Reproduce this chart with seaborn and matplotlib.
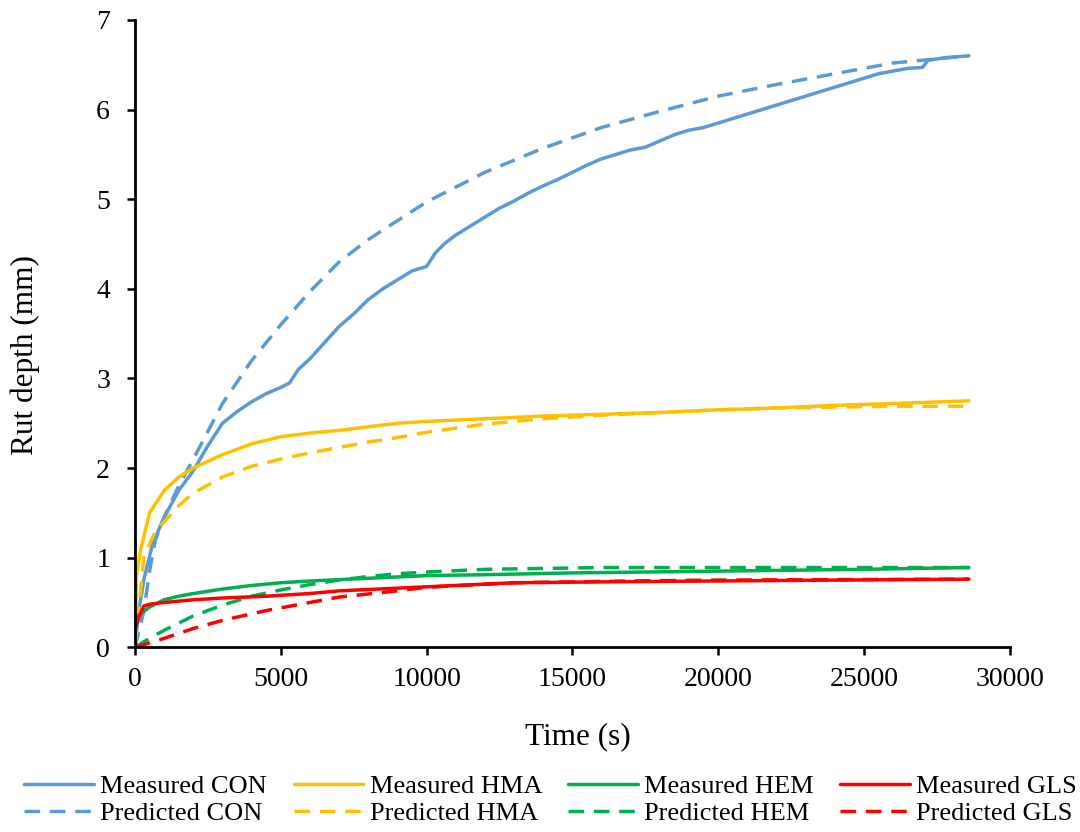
import numpy as np
import matplotlib
matplotlib.use("Agg")
import matplotlib.pyplot as plt
import seaborn as sns

# Measured / predicted rut depth (mm) vs time (s)
t_con = [0, 100, 300, 600, 1000, 1500, 2000, 2500, 3000, 3500, 4000, 4500, 5000, 5300, 5600, 6000,
         6500, 7000, 7500, 8000, 8500, 9000, 9500, 10000, 10300, 10600, 11000, 11500, 12000, 12500,
         13000, 13500, 14000, 14500, 15000, 15500, 16000, 16500, 17000, 17500, 18000, 18500, 19000,
         19500, 20000, 20500, 21000, 21500, 22000, 22500, 23000, 23500, 24000, 24500, 25000, 25500,
         26000, 26500, 27000, 27200, 27800, 28600]
meas_con = [0.0, 0.35, 0.75, 1.15, 1.45, 1.75, 1.97, 2.25, 2.5, 2.63, 2.74, 2.83, 2.9, 2.95, 3.1, 3.22,
            3.4, 3.58, 3.72, 3.88, 4.0, 4.1, 4.2, 4.25, 4.4, 4.5, 4.6, 4.7, 4.8, 4.9,
            4.98, 5.07, 5.15, 5.22, 5.3, 5.38, 5.45, 5.5, 5.55, 5.58, 5.65, 5.72, 5.77,
            5.8, 5.85, 5.9, 5.95, 6.0, 6.05, 6.1, 6.15, 6.2, 6.25, 6.3, 6.35, 6.4,
            6.43, 6.46, 6.47, 6.55, 6.58, 6.6]

t_pcon = [0, 300, 500, 700, 1000, 1500, 2000, 3000, 4000, 5000, 6000, 7000, 8000, 10000, 12000,
          14000, 16000, 18000, 20000, 22000, 24000, 26000, 28600]
pred_con = [0.0, 0.4, 0.85, 1.2, 1.45, 1.8, 2.1, 2.72, 3.2, 3.6, 3.97, 4.3, 4.55, 4.97, 5.3,
            5.57, 5.8, 5.98, 6.15, 6.28, 6.4, 6.52, 6.6]

t_hma = [0, 50, 200, 500, 1000, 1500, 2000, 3000, 4000, 5000, 6000, 7000, 8000, 9000, 10000,
         12000, 14000, 16000, 18000, 20000, 22000, 24000, 26000, 28600]
meas_hma = [0.0, 0.8, 1.1, 1.5, 1.75, 1.9, 2.0, 2.15, 2.27, 2.35, 2.39, 2.42, 2.46, 2.5, 2.52,
            2.55, 2.58, 2.6, 2.62, 2.65, 2.67, 2.7, 2.72, 2.75]

t_phma = [0, 300, 700, 1000, 1500, 2000, 3000, 4000, 5000, 6000, 7000, 8000, 9000, 10000, 12000,
          14000, 16000, 18000, 20000, 22000, 24000, 26000, 28600]
pred_hma = [0.0, 1.0, 1.3, 1.4, 1.58, 1.72, 1.9, 2.02, 2.1, 2.17, 2.23, 2.29, 2.34, 2.4, 2.49,
            2.55, 2.59, 2.62, 2.65, 2.67, 2.68, 2.69, 2.69]

t_hem = [0, 100, 500, 1000, 1500, 2000, 3000, 4000, 5000, 6000, 8000, 10000, 12000, 15000,
         20000, 25000, 28600]
meas_hem = [0.2, 0.35, 0.45, 0.53, 0.57, 0.6, 0.65, 0.69, 0.72, 0.74, 0.77, 0.8, 0.81, 0.83,
            0.85, 0.87, 0.89]

t_phem = [0, 500, 1000, 2000, 3000, 4000, 5000, 6000, 7000, 8000, 9000, 10000, 12000, 14000,
          16000, 20000, 28600]
pred_hem = [0.0, 0.1, 0.19, 0.35, 0.47, 0.57, 0.64, 0.7, 0.75, 0.79, 0.82, 0.84, 0.87, 0.88,
            0.89, 0.89, 0.89]

t_gls = [0, 150, 300, 500, 1000, 2000, 3000, 4500, 6000, 7000, 9000, 11000, 13000, 16000,
         20000, 24000, 28600]
meas_gls = [0.2, 0.35, 0.46, 0.48, 0.5, 0.53, 0.55, 0.57, 0.6, 0.63, 0.66, 0.69, 0.72, 0.73,
            0.74, 0.75, 0.76]

t_pgls = [0, 400, 1000, 2000, 3000, 4500, 6000, 7000, 9000, 10000, 13000, 17000, 20000, 24000, 28600]
pred_gls = [0.0, 0.04, 0.1, 0.21, 0.3, 0.41, 0.5, 0.56, 0.63, 0.67, 0.72, 0.74, 0.75, 0.755, 0.76]

sns.set_style("ticks")
plt.rcParams['font.family'] = ['Liberation Serif', 'DejaVu Serif']
plt.rcParams['text.color'] = 'black'
plt.rcParams['axes.labelcolor'] = 'black'

fig = plt.figure(figsize=(10.8, 8.32), dpi=100)
ax = fig.add_axes([0.125, 0.222, 0.81, 0.754])

lw = 2.5
dash = (4.5, 2.8)
series = [
    ("Measured CON", t_con, meas_con, "#5B9BD5", False),
    ("Predicted CON", t_pcon, pred_con, "#5B9BD5", True),
    ("Measured HMA", t_hma, meas_hma, "#FFC000", False),
    ("Predicted HMA", t_phma, pred_hma, "#FFC000", True),
    ("Measured HEM", t_hem, meas_hem, "#00B050", False),
    ("Predicted HEM", t_phem, pred_hem, "#00B050", True),
    ("Measured GLS", t_gls, meas_gls, "#FF0000", False),
    ("Predicted GLS", t_pgls, pred_gls, "#FF0000", True),
]
for name, t, y, col, dashed in series:
    sns.lineplot(x=t, y=y, color=col, linewidth=lw, label=name, ax=ax, legend=False)
    if dashed:
        ax.lines[-1].set_dashes(dash)

ax.set_xlim(0, 30000)
ax.set_ylim(0, 7)
ax.set_xticks(np.arange(0, 30001, 5000))
ax.set_yticks(np.arange(0, 8, 1))
ax.tick_params(axis="both", direction="out", length=6, width=1.8, labelsize=20, colors="black")
ax.tick_params(axis="x", pad=8)
ax.tick_params(axis="y", pad=12)
for s in ["left", "bottom"]:
    ax.spines[s].set_linewidth(2)
    ax.spines[s].set_color("black")
sns.despine(ax=ax)
ax.set_xlabel("Time (s)", fontsize=22.5)
ax.set_ylabel("Rut depth (mm)", fontsize=22.5)
ax.xaxis.set_label_coords(0.506, -0.119)
ax.yaxis.set_label_coords(-0.109, 0.466)

handles, labels = ax.get_legend_handles_labels()
fig.legend(handles, labels, ncol=4, loc="center", bbox_to_anchor=(0.51, 0.0385), frameon=False,
           fontsize=19, handlelength=2.65, handletextpad=0.23, columnspacing=1.0,
           labelspacing=0.15, borderaxespad=0, borderpad=0)

fig.savefig("out.png", dpi=100)
